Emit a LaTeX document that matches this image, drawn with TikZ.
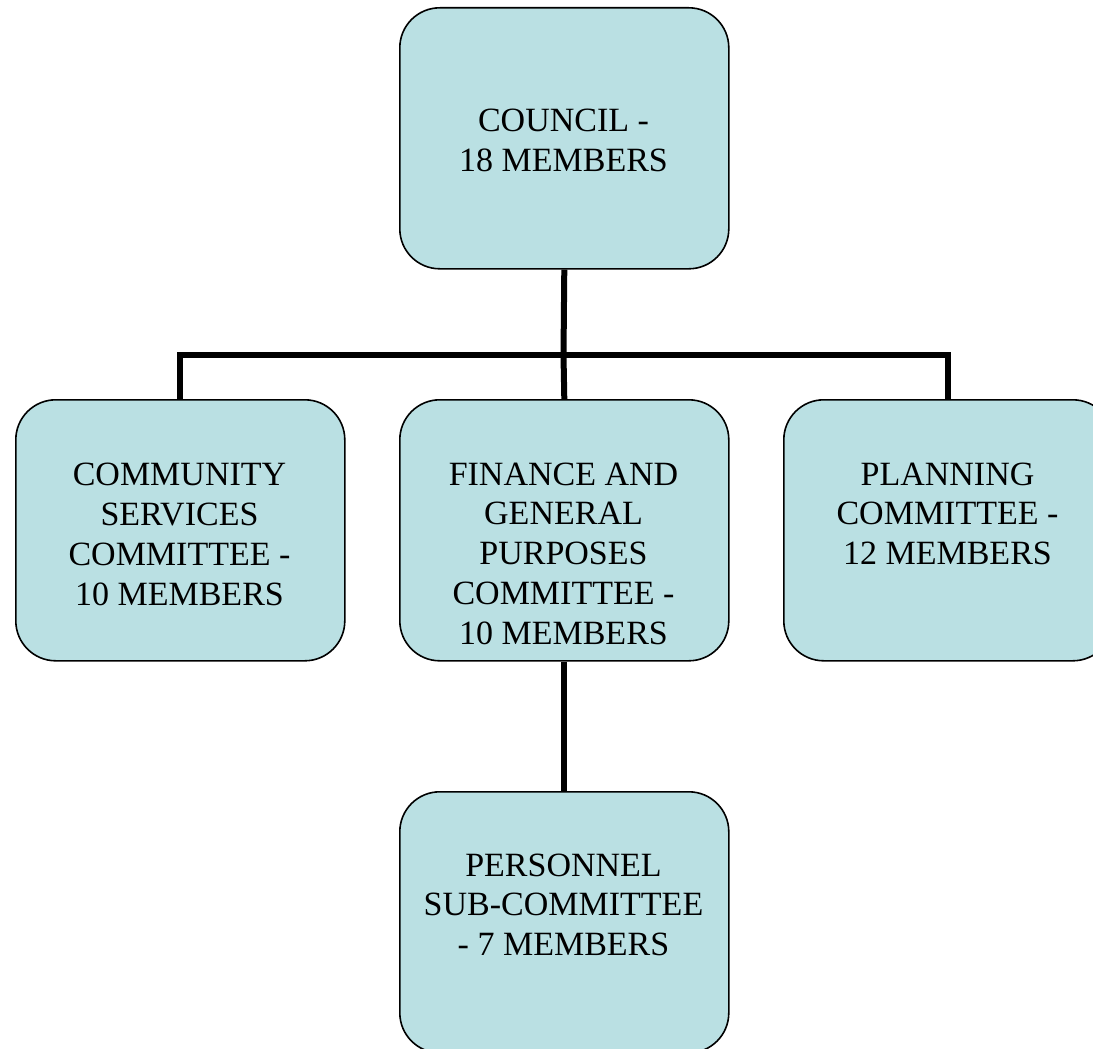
\documentclass[tikz,border=0pt]{standalone}
\usepackage{fontspec}
\setmainfont{Liberation Serif}
\definecolor{boxfill}{HTML}{BAE0E3}
\begin{document}
\begin{tikzpicture}[x=1pt,y=-1pt,
  orgbox/.style={draw=black, line width=1.6pt, fill=boxfill, rounded corners=40pt,
    minimum width=329pt, minimum height=261pt, inner sep=0pt, anchor=north west},
  orgtext/.style={align=center, anchor=base, inner sep=0pt,
    font=\fontsize{34pt}{39.8pt}\selectfont},
  link/.style={draw=black, line width=6pt}]
\useasboundingbox (0,0) rectangle (1093,1049);
\clip (0,0) rectangle (1093,1049);
\node[orgbox] (council) at (399,7) {};
\node[orgbox] (comm) at (15,399) {};
\node[orgbox] (fin) at (399,399) {};
\node[orgbox] (plan) at (783,399) {};
\node[orgbox] (pers) at (399,791) {};
\coordinate (bus) at (563.5,355);
\draw[link] (council.south) -- (bus);
\draw[link] (comm.north) |- (bus) -| (plan.north);
\draw[link] (bus) -- (fin.north);
\draw[link] (fin.south) -- (pers.north);
\node[orgtext] (tcouncil) at (563.5,171) {COUNCIL -\\18 MEMBERS};
\node[orgtext] (tcomm) at (179.5,605) {COMMUNITY\\SERVICES\\COMMITTEE -\\10 MEMBERS};
\node[orgtext] (tfin) at (563.5,644.2) {FINANCE AND\\GENERAL\\PURPOSES\\COMMITTEE -\\10 MEMBERS};
\node[orgtext] (tplan) at (947.5,564.6) {PLANNING\\COMMITTEE -\\12 MEMBERS};
\node[orgtext] (tpers) at (563.5,955.6) {PERSONNEL\\SUB-COMMITTEE\\- 7 MEMBERS};
\end{tikzpicture}
\end{document}
